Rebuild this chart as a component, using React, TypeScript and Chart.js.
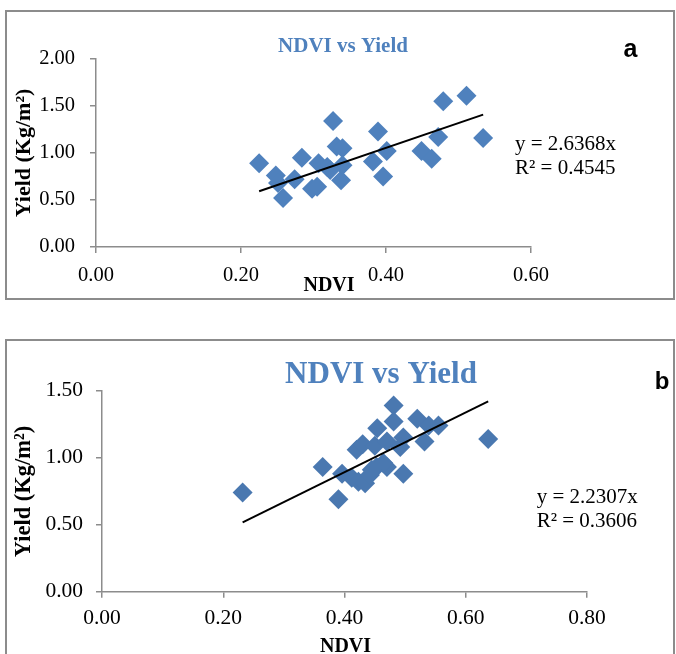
import React, { useEffect, useRef } from "react";
import { Chart, registerables } from "chart.js";

Chart.register(...registerables);

// ---------- Panel a data ----------
const ndviA = [0.225, 0.248, 0.251, 0.258, 0.274, 0.284, 0.298, 0.305, 0.307, 0.319, 0.327, 0.332, 0.340, 0.338, 0.340, 0.323, 0.389, 0.382, 0.401, 0.396, 0.449, 0.463, 0.472, 0.479, 0.511, 0.534];
const yieldA = [0.89, 0.76, 0.68, 0.52, 0.72, 0.95, 0.62, 0.64, 0.89, 0.85, 1.34, 1.07, 1.05, 0.71, 0.87, 0.82, 1.23, 0.91, 1.02, 0.75, 1.02, 0.94, 1.17, 1.55, 1.61, 1.16];
const slopeA = 2.6368;
const r2A = "0.4545";
const xRangeA = [0, 0.6];
const yRangeA = [0, 2];

// ---------- Panel b data ----------
const ndviB = [0.232, 0.364, 0.390, 0.396, 0.420, 0.430, 0.412, 0.423, 0.434, 0.442, 0.454, 0.450, 0.453, 0.470, 0.470, 0.481, 0.481, 0.497, 0.492, 0.497, 0.520, 0.532, 0.539, 0.555, 0.637, 0.464, 0.445];
const yieldB = [0.74, 0.93, 0.69, 0.88, 1.06, 1.10, 0.85, 0.82, 0.81, 0.87, 1.22, 1.09, 0.93, 1.12, 0.93, 1.39, 1.27, 1.15, 1.08, 0.88, 1.29, 1.12, 1.24, 1.24, 1.14, 0.96, 0.91];
const slopeB = 2.2307;
const r2B = "0.3606";
const xRangeB = [0, 0.8];
const yRangeB = [0, 1.5];

const tickStepX = 0.2;
const tickStepY = 0.5;

const chartTitle = "NDVI vs Yield";
const xTitle = "NDVI";
const yTitle = "Yield (Kg/m\u00B2)";

const SERIF = "'Liberation Serif', 'Times New Roman', serif";
const SANS = "'Liberation Sans', Arial, sans-serif";
const AXIS = "#8c8c8c";

type Txt = {
  text: string;
  x: number;
  y: number;
  font: string;
  color: string;
  align: CanvasTextAlign;
  baseline: CanvasTextBaseline;
  rot?: number;
};

type PanelProps = {
  top: number;
  height: number;
  ndvi: number[];
  yld: number[];
  slope: number;
  xRange: number[];
  yRange: number[];
  color: string;
  padTop: number;
  padRight: number;
  yAxisW: number;
  xAxisH: number;
  tickFont: number;
  yPad: number;
  xPad: number;
  texts: Txt[];
};

function Panel(p: PanelProps) {
  const ref = useRef<HTMLCanvasElement>(null);
  useEffect(() => {
    if (!ref.current) return;
    const textPlugin = {
      id: "texts",
      afterDraw(chart: any) {
        const ctx = chart.ctx as CanvasRenderingContext2D;
        for (const t of p.texts) {
          ctx.save();
          ctx.font = t.font;
          ctx.fillStyle = t.color;
          ctx.textAlign = t.align;
          ctx.textBaseline = t.baseline;
          ctx.translate(t.x, t.y);
          if (t.rot) ctx.rotate(t.rot);
          ctx.fillText(t.text, 0, 0);
          ctx.restore();
        }
      },
    };
    const minX = Math.min(...p.ndvi);
    const maxX = Math.max(...p.ndvi);
    const chart = new Chart(ref.current, {
      type: "scatter",
      data: {
        datasets: [
          {
            data: [
              { x: minX, y: p.slope * minX },
              { x: maxX, y: p.slope * maxX },
            ],
            showLine: true,
            borderColor: "#000",
            borderWidth: 2,
            pointRadius: 0,
            fill: false,
          },
          {
            data: p.ndvi.map((x, i) => ({ x, y: p.yld[i] })),
            pointStyle: "rectRot",
            pointRadius: 10,
            backgroundColor: p.color,
            borderColor: p.color,
            borderWidth: 0,
          },
        ],
      },
      options: {
        responsive: false,
        animation: false,
        devicePixelRatio: 1,
        layout: { padding: { top: p.padTop, right: p.padRight, left: 0, bottom: 0 } },
        plugins: {
          legend: { display: false },
          tooltip: { enabled: false },
          title: { display: false },
        },
        scales: {
          x: {
            type: "linear",
            position: "bottom",
            min: p.xRange[0],
            max: p.xRange[1],
            ticks: {
              stepSize: tickStepX,
              callback: (v: any) => Number(v).toFixed(2),
              font: { family: SERIF, size: p.tickFont },
              color: "#000",
              padding: p.xPad,
              maxRotation: 0,
              autoSkip: false,
            },
            grid: { drawOnChartArea: false, drawTicks: true, tickLength: 6, color: AXIS, lineWidth: 1.5 },
            border: { color: AXIS, width: 1.5 },
            afterFit: (s: any) => {
              s.height = p.xAxisH;
            },
          },
          y: {
            type: "linear",
            position: "left",
            min: p.yRange[0],
            max: p.yRange[1],
            ticks: {
              stepSize: tickStepY,
              callback: (v: any) => Number(v).toFixed(2),
              font: { family: SERIF, size: p.tickFont },
              color: "#000",
              padding: p.yPad,
            },
            grid: { drawOnChartArea: false, drawTicks: true, tickLength: 6, color: AXIS, lineWidth: 1.5 },
            border: { color: AXIS, width: 1.5 },
            afterFit: (s: any) => {
              s.width = p.yAxisW;
            },
          },
        },
      } as any,
      plugins: [textPlugin],
    });
    return () => chart.destroy();
  }, []);
  return (
    <canvas
      ref={ref}
      width={676}
      height={p.height}
      style={{ position: "absolute", left: 0, top: p.top, width: 676, height: p.height }}
    />
  );
}

export default function App() {
  const textsA: Txt[] = [
    { text: chartTitle, x: 343, y: 52, font: `bold 21px ${SERIF}`, color: "#4F81BD", align: "center", baseline: "alphabetic" },
    { text: "a", x: 630.5, y: 56.5, font: `bold 25px ${SANS}`, color: "#000", align: "center", baseline: "alphabetic" },
    { text: `y = ${slopeA.toFixed(4)}x`, x: 515, y: 150, font: `21px ${SERIF}`, color: "#000", align: "left", baseline: "alphabetic" },
    { text: `R\u00B2 = ${r2A}`, x: 515, y: 173.5, font: `21px ${SERIF}`, color: "#000", align: "left", baseline: "alphabetic" },
    { text: yTitle, x: 24, y: 153, font: `bold 22px ${SERIF}`, color: "#000", align: "center", baseline: "middle", rot: -Math.PI / 2 },
    { text: xTitle, x: 329, y: 291, font: `bold 20px ${SERIF}`, color: "#000", align: "center", baseline: "alphabetic" },
  ];
  const textsB: Txt[] = [
    { text: chartTitle, x: 381, y: 53.3, font: `bold 31px ${SERIF}`, color: "#4F81BD", align: "center", baseline: "alphabetic" },
    { text: "b", x: 662, y: 59, font: `bold 24px ${SANS}`, color: "#000", align: "center", baseline: "alphabetic" },
    { text: `y = ${slopeB.toFixed(4)}x`, x: 536.7, y: 172.7, font: `21px ${SERIF}`, color: "#000", align: "left", baseline: "alphabetic" },
    { text: `R\u00B2 = ${r2B}`, x: 536.7, y: 196.7, font: `21px ${SERIF}`, color: "#000", align: "left", baseline: "alphabetic" },
    { text: yTitle, x: 24, y: 161.5, font: `bold 22.5px ${SERIF}`, color: "#000", align: "center", baseline: "middle", rot: -Math.PI / 2 },
    { text: xTitle, x: 345.5, y: 321.7, font: `bold 20px ${SERIF}`, color: "#000", align: "center", baseline: "alphabetic" },
  ];

  return (
    <div style={{ position: "absolute", left: 0, top: 0, width: 676, height: 654, background: "#fff", overflow: "hidden" }}>
      <div
        style={{
          position: "absolute",
          left: 5,
          top: 10,
          width: 670,
          height: 290,
          border: `2px solid ${AXIS}`,
          boxSizing: "border-box",
        }}
      />
      <div
        style={{
          position: "absolute",
          left: 5,
          top: 339,
          width: 670,
          height: 330,
          border: `2px solid ${AXIS}`,
          boxSizing: "border-box",
        }}
      />
      <Panel
        top={0}
        height={300}
        ndvi={ndviA}
        yld={yieldA}
        slope={slopeA}
        xRange={xRangeA}
        yRange={yRangeA}
        color="#4F81BD"
        padTop={59}
        padRight={145}
        yAxisW={96}
        xAxisH={53}
        tickFont={20.5}
        yPad={15}
        xPad={10}
        texts={textsA}
      />
      <Panel
        top={330}
        height={324}
        ndvi={ndviB}
        yld={yieldB}
        slope={slopeB}
        xRange={xRangeB}
        yRange={yRangeB}
        color="#4A78B0"
        padTop={60.7}
        padRight={89}
        yAxisW={102}
        xAxisH={62.3}
        tickFont={21.5}
        yPad={13}
        xPad={8}
        texts={textsB}
      />
    </div>
  );
}
